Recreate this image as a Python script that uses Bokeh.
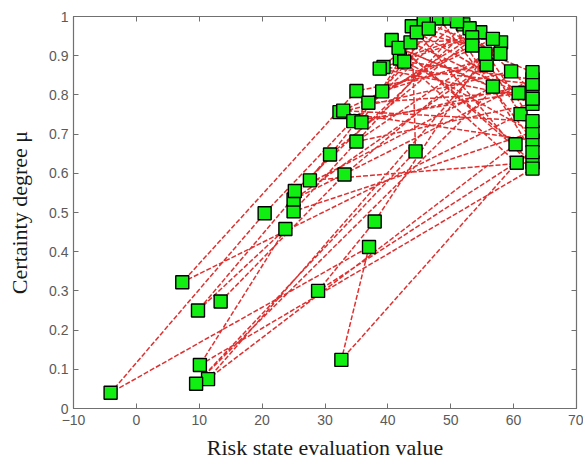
from bokeh.plotting import figure
from bokeh.models import Range1d, FixedTicker, LinearAxis, ColumnDataSource
from bokeh.embed import file_html
from bokeh.resources import INLINE

# Trajectory of (risk state evaluation value, certainty degree) in sequence order
risk_values = [
    13.4, 33.1, 58.0, 11.4, 60.3, 40.6, 63.0, 27.6, 48.1, 63.0,
    32.3, 59.6, 9.5, 44.4, 43.8, 63.0, 10.1, 23.7, 9.8, 30.8,
    54.7, 41.9, 63.0, 25.0, 52.0, 61.1, 7.3, 35.0, 55.7, 25.0,
    63.0, 42.6, 60.5, 32.6, 37.0, -4.1, 20.4, 49.8, 63.0, 28.9,
    37.9, 55.5, 35.0, 63.0, 41.7, 56.7, 25.2, 53.0, 63.0, 32.9,
    56.7, 43.6, 60.8, 34.5, 51.0, 63.0, 36.9, 53.4, 39.3, 63.0,
    35.8, 45.7, 57.9, 39.1, 53.4, 44.6, 63.0, 38.7, 46.5, 63.0,
]
certainty = [
    0.273, 0.597, 0.934, 0.075, 0.674, 0.940, 0.628, 0.582, 0.995, 0.684,
    0.756, 0.860, 0.063, 0.656, 0.975, 0.612, 0.111, 0.458, 0.250, 0.648,
    0.960, 0.893, 0.705, 0.503, 0.980, 0.751, 0.322, 0.810, 0.877, 0.533,
    0.840, 0.885, 0.627, 0.124, 0.412, 0.040, 0.498, 0.995, 0.654, 0.300,
    0.477, 0.905, 0.681, 0.777, 0.920, 0.821, 0.555, 0.970, 0.733, 0.760,
    0.943, 0.934, 0.805, 0.733, 0.988, 0.810, 0.780, 0.947, 0.871, 0.828,
    0.730, 0.987, 0.905, 0.809, 0.926, 0.960, 0.790, 0.867, 0.969, 0.858,
]

x_ticks = [-10, 0, 10, 20, 30, 40, 50, 60, 70]
y_ticks = [0, 0.1, 0.2, 0.3, 0.4, 0.5, 0.6, 0.7, 0.8, 0.9, 1]
y_tick_labels = ["0", "0.1", "0.2", "0.3", "0.4", "0.5", "0.6", "0.7", "0.8", "0.9", "1"]

x_title = "Risk state evaluation value"
y_title = "Certainty degree \u03bc"

src = ColumnDataSource(dict(x=risk_values, y=certainty))

p = figure(width=583, height=462, output_backend="svg", toolbar_location=None,
           x_range=Range1d(-10, 70), y_range=Range1d(0, 1),
           min_border_left=73, min_border_top=16, min_border_right=7, min_border_bottom=54)
p.grid.visible = False
p.background_fill_color = "white"
p.border_fill_color = "white"
p.outline_line_color = "#707070"
p.outline_line_width = 1.2

axis_color = "#707070"
label_color = "#5a5a5a"

for ax, ticks in ((p.xaxis[0], x_ticks), (p.yaxis[0], y_ticks)):
    ax.ticker = FixedTicker(ticks=ticks)
    ax.axis_line_color = axis_color
    ax.major_tick_line_color = axis_color
    ax.major_tick_in = 5
    ax.major_tick_out = 0
    ax.minor_tick_line_color = None
    ax.major_label_text_font = "Liberation Sans"
    ax.major_label_text_font_size = "14px"
    ax.major_label_text_color = label_color
    ax.axis_label_text_font = "Liberation Serif"
    ax.axis_label_text_font_size = "22px"
    ax.axis_label_text_font_style = "normal"
    ax.axis_label_text_color = "#1a1a1a"

p.xaxis[0].axis_label = x_title
p.xaxis[0].major_label_standoff = 6
p.xaxis[0].axis_label_standoff = 7
p.yaxis[0].axis_label = y_title
p.yaxis[0].major_label_standoff = 5
p.yaxis[0].axis_label_standoff = 14
p.yaxis[0].major_label_overrides = {t: s for t, s in zip(y_ticks, y_tick_labels)}

top_axis = LinearAxis(ticker=FixedTicker(ticks=x_ticks))
right_axis = LinearAxis(ticker=FixedTicker(ticks=y_ticks))
for ax in (top_axis, right_axis):
    ax.axis_line_color = axis_color
    ax.major_tick_line_color = axis_color
    ax.major_tick_in = 5
    ax.major_tick_out = 0
    ax.minor_tick_line_color = None
    ax.major_label_text_color = None
    ax.major_label_standoff = 0
p.add_layout(top_axis, "above")
p.add_layout(right_axis, "right")

p.line("x", "y", source=src, line_color="#dc1a1a", line_width=1.5,
       line_dash="5 2", line_alpha=0.9)
p.scatter("x", "y", source=src, marker="square", size=13,
          fill_color="#11ee11", line_color="black", line_width=1.4)

open("out.html", "w").write(file_html(p, INLINE))
